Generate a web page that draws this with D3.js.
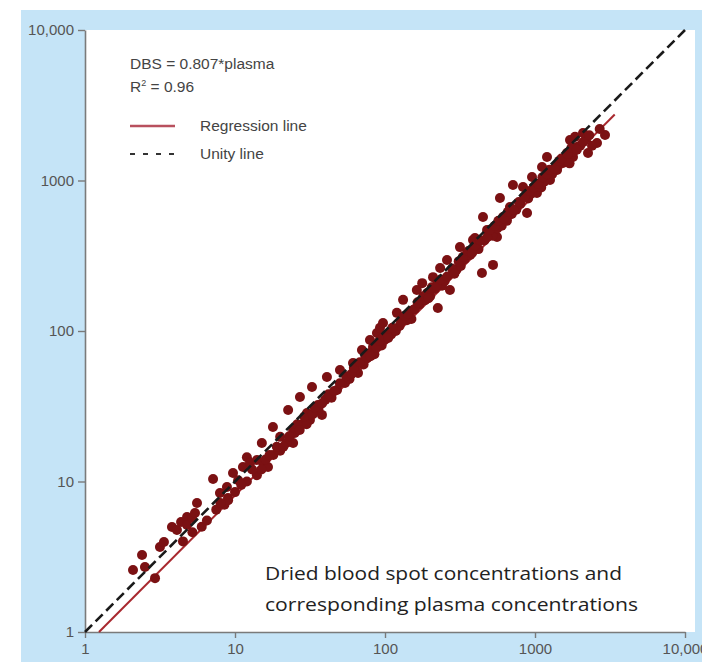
<!DOCTYPE html>
<html>
<head>
<meta charset="utf-8">
<script src="https://cdn.jsdelivr.net/npm/d3@7"></script>
<style>
  body { margin: 0; background: #fff; }
  svg { display: block; }
</style>
</head>
<body>
<div id="chart"></div>
<script>
// tick values and their labels (same for both axes)
var tickVals = [1, 10, 100, 1000, 10000];
var tickLabels = ["1", "10", "100", "1000", "10,000"];

// plasma concentration (x) and dried blood spot concentration (y)
var plasma = [2.09, 2.40, 2.51, 2.93, 3.16, 3.36, 3.80, 4.10, 4.37, 4.79, 4.79, 5.17, 5.41, 5.58,
  7.14, 7.94, 8.84, 8.98, 9.70, 10.5, 11.3, 12.0, 12.6, 14.0, 15.4, 16.6, 15.1, 17.9, 20.0,
  22.6, 24.4, 24.4, 27.1, 30.2, 32.6, 31.6, 35.7, 38.0, 41.0, 47.9, 50.1, 54.1, 61.2, 66.1,
  70.2, 79.4, 83.2, 88.4, 79.4, 92.6, 97.0, 108, 120, 132, 140, 154, 163, 177, 191, 225, 209,
  233, 271, 259, 284, 316, 352, 386, 443, 525, 479, 558, 450, 398, 584, 612, 681, 713, 832,
  885, 955, 1030, 1114, 1202, 1259, 1403, 1537, 1633, 1792, 1711, 1905, 2089, 2256, 2590, 2930,
  6.0, 6.5, 8.5, 9.0, 10.0, 12.0, 14.0, 16.0, 18.0, 20.0, 22.0, 25.0, 28.0, 30.0, 36, 40, 44,
  58, 64, 72, 76, 85, 95, 100, 110, 118, 125, 145, 150, 170, 185, 200, 215, 240, 250, 300, 320,
  340, 370, 420, 460, 520, 560, 600, 650, 700, 750, 800, 900, 950, 1100, 1150, 1300, 1400,
  1600, 1700, 1800, 2000, 2200, 2400,
  4.5, 5.2, 7.5, 8.0, 11, 13, 15, 17, 19, 21, 23, 26, 27, 29, 33, 34, 38, 42, 46, 50, 55, 60,
  62, 68, 74, 80, 88, 92, 98, 105, 112, 128, 135, 142, 158, 165, 180, 195, 205, 220, 235, 260,
  280, 290, 310, 330, 360, 380, 400, 430, 480, 500, 540, 570, 620, 660, 720, 780, 850, 920, 980,
  1050, 1120, 1200, 1250, 1350, 1450, 1500, 1650, 1750, 1900, 2100, 2300, 1850, 2700];
var dbs = [2.58, 3.25, 2.70, 2.28, 3.67, 3.96, 4.99, 4.76, 5.38, 5.81, 5.14, 5.72, 6.18, 7.20,
  10.4, 8.39, 9.19, 7.77, 11.4, 10.2, 12.5, 14.5, 13.3, 13.9, 13.3, 12.5, 18.0, 23.0, 19.8,
  29.9, 18.0, 22.0, 36.4, 28.5, 42.5, 25.6, 32.2, 27.7, 49.5, 40.5, 55.1, 45.1, 61.3, 52.6,
  74.8, 87.1, 78.3, 97.0, 71.4, 105, 113, 97, 132, 161, 118, 138, 187, 208, 179, 142, 228,
  262, 187, 296, 254, 361, 330, 402, 243, 275, 469, 421, 572, 415, 765, 572, 667, 933, 905,
  608, 1055, 826, 1230, 1432, 1007, 1175, 1306, 1523, 1432, 1858, 1669, 2070, 1523, 1775, 2006,
  5.0, 5.5, 7.0, 7.5, 8.5, 10.0, 11.0, 14.0, 15.0, 16.0, 18.0, 21.0, 24.0, 24.0, 30, 35, 36,
  48, 55, 60, 66, 70, 80, 88, 95, 100, 108, 125, 120, 150, 160, 170, 190, 200, 215, 255, 270,
  300, 320, 350, 400, 430, 480, 500, 540, 600, 640, 700, 760, 820, 900, 980, 1100, 1250,
  1350, 1300, 1550, 1700, 1900, 1700,
  4.0, 4.6, 6.5, 7.2, 9.5, 12, 12, 15, 17, 17, 20, 24, 22, 27, 28, 31, 33, 38, 40, 45, 50, 52,
  57, 62, 68, 68, 78, 86, 92, 90, 105, 115, 126, 130, 140, 155, 170, 165, 195, 200, 220, 230,
  260, 240, 290, 310, 340, 330, 370, 400, 420, 470, 500, 540, 560, 620, 640, 720, 780, 850, 900,
  950, 1050, 1100, 1180, 1200, 1350, 1400, 1500, 1650, 1600, 1800, 2000, 1950, 2200];

var slope = 0.807;
var regEnd = 3400;

var W = 702, H = 662;

var svg = d3.select("#chart")
  .append("svg")
  .attr("width", W)
  .attr("height", H);

// light blue frame and white plot area
svg.append("rect")
  .attr("x", 21).attr("y", 10)
  .attr("width", W - 21).attr("height", H - 10)
  .attr("fill", "#c5e4f7");
svg.append("rect")
  .attr("x", 85).attr("y", 30)
  .attr("width", 610).attr("height", 602)
  .attr("fill", "#fff");

var x = d3.scaleLog().domain([1, 10000]).range([85, 685]);
var y = d3.scaleLog().domain([1, 10000]).range([632, 30]);

var fmt = function(d) { return tickLabels[tickVals.indexOf(d)]; };

var xAxis = svg.append("g")
  .attr("transform", "translate(0,632)")
  .call(d3.axisBottom(x).tickValues(tickVals).tickFormat(fmt).tickSize(6).tickSizeOuter(0).tickPadding(5));
var yAxis = svg.append("g")
  .attr("transform", "translate(85,0)")
  .call(d3.axisLeft(y).tickValues(tickVals).tickFormat(fmt).tickSize(7).tickSizeOuter(0).tickPadding(4));

[xAxis, yAxis].forEach(function(g) {
  g.select(".domain").attr("stroke", "#7a7a7a").attr("stroke-width", 1.6);
  g.selectAll(".tick line").attr("stroke", "#7a7a7a").attr("stroke-width", 1.4);
  g.selectAll(".tick text")
    .attr("fill", "#555")
    .style("font-family", "'Liberation Sans', Arial, sans-serif")
    .style("font-size", "15px");
});

// regression line (under the points)
svg.append("line")
  .attr("x1", x(1 / slope)).attr("y1", y(1))
  .attr("x2", x(regEnd)).attr("y2", y(regEnd * slope))
  .attr("stroke", "#a8282e")
  .attr("stroke-width", 2);

var pts = plasma.map(function(p, i) { return [p, dbs[i]]; });

svg.selectAll("circle.pt")
  .data(pts)
  .enter()
  .append("circle")
  .attr("class", "pt")
  .attr("cx", function(d) { return x(d[0]); })
  .attr("cy", function(d) { return y(d[1]); })
  .attr("r", 5)
  .attr("fill", "#7b1113");

// unity line on top
svg.append("line")
  .attr("x1", x(1)).attr("y1", y(1))
  .attr("x2", x(10000)).attr("y2", y(10000))
  .attr("stroke", "#1a1a1a")
  .attr("stroke-width", 2.6)
  .attr("stroke-dasharray", "10,5");

// equation and legend
var txt = svg.append("g")
  .style("font-family", "'Liberation Sans', Arial, sans-serif")
  .style("font-size", "15.5px")
  .attr("fill", "#444");

txt.append("text").attr("x", 130).attr("y", 69).text("DBS = 0.807*plasma");
var r2 = txt.append("text").attr("x", 130).attr("y", 92);
r2.append("tspan").text("R");
r2.append("tspan").attr("dy", -6).style("font-size", "9px").text("2");
r2.append("tspan").attr("dy", 6).text(" = 0.96");

svg.append("line")
  .attr("x1", 130).attr("x2", 175)
  .attr("y1", 126).attr("y2", 126)
  .attr("stroke", "#b8505e").attr("stroke-width", 2.5);
txt.append("text").attr("x", 200).attr("y", 131).text("Regression line");

svg.append("line")
  .attr("x1", 130).attr("x2", 176)
  .attr("y1", 154).attr("y2", 154)
  .attr("stroke", "#333").attr("stroke-width", 2)
  .attr("stroke-dasharray", "5,8");
txt.append("text").attr("x", 200).attr("y", 159).text("Unity line");

// annotation
var note = svg.append("g")
  .style("font-family", "'Open Sans', sans-serif")
  .style("font-size", "19px")
  .attr("fill", "#222");
note.append("text").attr("x", 265).attr("y", 580)
  .attr("textLength", 357).attr("lengthAdjust", "spacingAndGlyphs")
  .text("Dried blood spot concentrations and");
note.append("text").attr("x", 265).attr("y", 611)
  .attr("textLength", 373).attr("lengthAdjust", "spacingAndGlyphs")
  .text("corresponding plasma concentrations");
</script>
</body>
</html>
